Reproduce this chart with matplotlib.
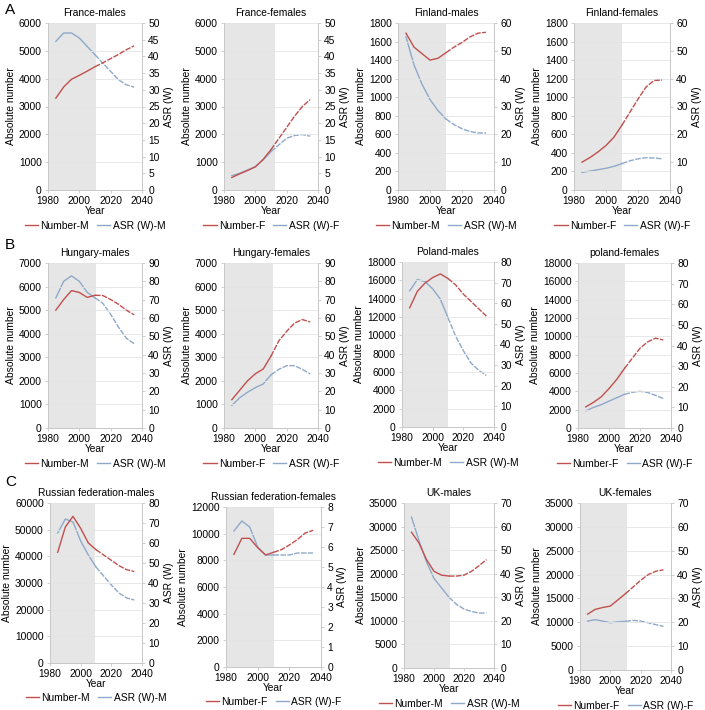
import numpy as np
import matplotlib
matplotlib.use("Agg")
import matplotlib.pyplot as plt

plt.rcParams['font.family'] = ['Liberation Sans', 'DejaVu Sans']

years = [1985, 1990, 1995, 2000, 2005, 2010, 2015, 2020, 2025, 2030, 2035]

# row A
france_m_num = [3300, 3700, 3980, 4120, 4270, 4430, 4570, 4720, 4870, 5040, 5180]
france_m_asr = [44.5, 47, 47, 45.5, 43, 40.5, 38, 35.5, 33, 31.5, 30.8]
france_f_num = [450, 580, 700, 830, 1100, 1450, 1850, 2250, 2650, 3000, 3250]
france_f_asr = [4.3, 5, 6, 7, 9, 11.5, 13.5, 15.5, 16.3, 16.6, 16.1]
finland_m_num = [1690, 1540, 1470, 1400, 1420, 1480, 1540, 1590, 1650, 1690, 1700]
finland_m_asr = [55, 45, 38, 32.5, 28.5, 25.5, 23.5, 22, 21, 20.5, 20.5]
finland_f_num = [300, 350, 410, 480, 570, 700, 840, 980, 1110, 1180, 1185]
finland_f_asr = [6.3, 6.8, 7.3, 7.8, 8.5, 9.5, 10.5, 11.2, 11.6, 11.5, 11.2]
# row B
hungary_m_num = [5000, 5450, 5830, 5750, 5540, 5630, 5620, 5450, 5250, 5000, 4800]
hungary_m_asr = [71, 80, 83, 80, 74, 71, 68, 62, 55, 49, 46]
hungary_f_num = [1200, 1600, 2000, 2300, 2500, 3050, 3700, 4100, 4450, 4600, 4500]
hungary_f_asr = [12.3, 16.5, 19.5, 22, 24, 29, 32, 34, 34, 32, 29.5]
poland_m_num = [13000, 14800, 15700, 16300, 16700, 16200, 15500, 14500, 13700, 12900, 12100]
poland_m_asr = [66, 71.5, 70.5, 67, 62, 53, 44, 37, 31, 27.5, 25]
poland_f_num = [2300, 2800, 3400, 4300, 5300, 6500, 7600, 8700, 9400, 9800, 9600]
poland_f_asr = [8.3, 10, 11.3, 13, 14.7, 16.3, 17.3, 17.8, 17.2, 15.8, 14.3]
# row C
russia_m_num = [41500, 51000, 55000, 50500, 45000, 42500, 40500, 38500, 36500, 35000, 34300]
russia_m_asr = [65, 72, 70.5, 61, 54, 48, 43.5, 39, 35, 32.5, 31.5]
russia_f_num = [8450, 9650, 9650, 8950, 8400, 8600, 8800, 9150, 9550, 10050, 10250]
russia_f_asr = [6.8, 7.3, 7.0, 6.0, 5.6, 5.6, 5.6, 5.6, 5.7, 5.7, 5.7]
uk_m_num = [28800, 26500, 23000, 20500, 19700, 19500, 19500, 19700, 20500, 21700, 23000]
uk_m_asr = [64, 54, 45, 38, 34, 30, 27, 25, 24, 23.3, 23.3]
uk_f_num = [11700, 12700, 13100, 13400, 14700, 16000, 17400, 18800, 20000, 20700, 21000]
uk_f_asr = [20.5, 21.1, 20.5, 19.8, 20.2, 20.4, 20.8, 20.5, 19.8, 19.0, 18.3]

titles = ["France-males", "France-females", "Finland-males", "Finland-females",
          "Hungary-males", "Hungary-females", "Poland-males", "poland-females",
          "Russian federation-males", "Russian federation-females", "UK-males", "UK-females"]
numbers = [france_m_num, france_f_num, finland_m_num, finland_f_num,
           hungary_m_num, hungary_f_num, poland_m_num, poland_f_num,
           russia_m_num, russia_f_num, uk_m_num, uk_f_num]
asrs = [france_m_asr, france_f_asr, finland_m_asr, finland_f_asr,
        hungary_m_asr, hungary_f_asr, poland_m_asr, poland_f_asr,
        russia_m_asr, russia_f_asr, uk_m_asr, uk_f_asr]
left_max = [6000, 6000, 1800, 1800, 7000, 7000, 18000, 18000, 60000, 12000, 35000, 35000]
left_step = [1000, 1000, 200, 200, 1000, 1000, 2000, 2000, 10000, 2000, 5000, 5000]
right_max = [50, 50, 60, 60, 90, 90, 80, 80, 80, 8, 70, 70]
right_step = [5, 5, 10, 10, 10, 10, 10, 10, 10, 1, 10, 10]
shade_end = [2010.5, 2012.5, 2010, 2010, 2010.5, 2011.5, 2010, 2010.5, 2009.5, 2010.5, 2010.5, 2011]

# axes boxes in pixels: left, right, top, bottom
boxes = [(48, 142, 23, 190), (224, 318, 23, 190), (398, 494, 23, 190), (574, 670, 23, 190),
         (48, 142, 263, 428), (224, 318, 263, 428), (402, 494, 262, 427), (578, 671, 263, 428),
         (50, 142, 503, 663), (226, 321, 507, 667), (404, 494, 503, 668), (580, 671, 503, 670)]

W, H = 705, 710
red = '#c0504d'
blue = '#8ea9c9'
fs = 7.4

fig = plt.figure(figsize=(W / 100, H / 100), dpi=100)

for i in range(12):
    l, r, t, b = boxes[i]
    ax = fig.add_axes([l / W, 1 - b / H, (r - l) / W, (b - t) / H])
    ax2 = ax.twinx()
    ax.set_zorder(ax2.get_zorder() + 1)
    ax.patch.set_visible(False)
    ax2.axvspan(1980, shade_end[i], color='#e6e6e6', lw=0, zorder=0)
    suffix = 'F' if 'females' in titles[i] else 'M'
    yr = np.array(years)
    num = np.array(numbers[i])
    asr = np.array(asrs[i])
    hist = yr <= 2010
    proj = yr >= 2010
    ax.plot(yr[hist], num[hist], color=red, lw=1.0)
    ax.plot(yr[proj], num[proj], color=red, lw=1.0, dashes=(4, 1))
    ax2.plot(yr[hist], asr[hist], color=blue, lw=1.0)
    ax2.plot(yr[proj], asr[proj], color=blue, lw=1.0, dashes=(4, 1))

    ax.set_xlim(1980, 2040)
    ax.set_ylim(0, left_max[i])
    ax2.set_ylim(0, right_max[i])
    ax.set_xticks([1980, 2000, 2020, 2040])
    ax.set_yticks(np.arange(0, left_max[i] + 1, left_step[i]))
    ax2.set_yticks(np.arange(0, right_max[i] + 0.001, right_step[i]))
    ax.yaxis.grid(True, color='#e4e4e4', lw=0.6)
    ax.set_axisbelow(True)
    for a in (ax, ax2):
        a.tick_params(labelsize=fs, length=2.5, width=0.6, color='#c8c8c8', pad=2)
        for s in a.spines.values():
            s.set_color('#c8c8c8')
            s.set_linewidth(0.7)
        a.spines['top'].set_visible(False)
    ax.set_title(titles[i], fontsize=fs, pad=5)
    ax.set_ylabel('Absolute number', fontsize=fs, labelpad=2)
    ax2.set_ylabel('ASR (W)', fontsize=fs, labelpad=3)
    ax.set_xlabel('Year', fontsize=fs, labelpad=0)
    h1, = ax.plot([], [], color=red, lw=1.0)
    h2, = ax.plot([], [], color=blue, lw=1.0)
    ax.legend([h1, h2], ['Number-' + suffix, 'ASR (W)-' + suffix], loc='upper center',
              bbox_to_anchor=(0.5, -0.155), ncol=2, frameon=False, fontsize=fs,
              handlelength=1.3, handletextpad=0.2, columnspacing=0.8, borderpad=0)

fig.text(5 / W, 1 - 10 / H, 'A', fontsize=11, va='center')
fig.text(5 / W, 1 - 245 / H, 'B', fontsize=11, va='center')
fig.text(5 / W, 1 - 482 / H, 'C', fontsize=11, va='center')

fig.savefig('out.png', dpi=100)
